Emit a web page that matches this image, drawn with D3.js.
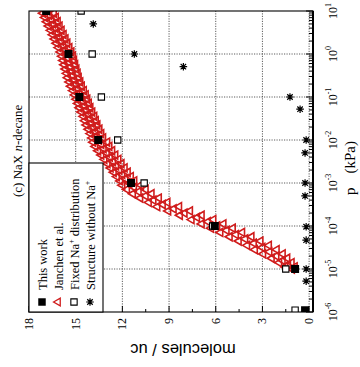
<!DOCTYPE html>
<html>
<head>
<meta charset="utf-8">
<script src="https://cdn.jsdelivr.net/npm/d3@7"></script>
<style>
body { margin:0; background:#fff; }
svg { display:block; }
</style>
</head>
<body>
<script>
// [p (kPa), molecules/uc]
var thisWork = [[10,16.9],[1,15.46],[0.1,14.77],[0.01,13.55],[1e-3,11.44],[1e-4,6.06],[1e-5,0.9],[1.1e-6,0.26]];
var fixedNa = [[10,14.65],[1,13.94],[0.1,13.35],[0.01,12.3],[1e-3,10.6],[1e-4,6.2],[1e-5,1.5],[1.1e-6,0.9]];
var noNa = [[5.0,13.87],[1,11.23],[0.507,8.08],[0.1,1.23],[0.052,0.58],[0.01,0.19],[0.005,0.26],[1e-3,0.26],
            [5e-4,0.26],[9.6e-5,0.19],[4.7e-5,0.19],[1e-5,0.19],[5.2e-6,0.19]];

// Janchen et al. - read along the band (middle, upper and lower edge)
var janchenMid = [[10,16.8],[7.94,16.7],[6.31,16.55],[5.01,16.45],[3.98,16.3],[3.16,16.2],[2.51,16.05],[2.0,15.95],
  [1.58,15.8],[1.26,15.7],[1.0,15.55],[0.794,15.5],[0.631,15.4],[0.501,15.35],[0.398,15.25],[0.316,15.2],
  [0.251,15.1],[0.2,15.0],[0.158,14.9],[0.126,14.75],[0.1,14.65],[0.0794,14.55],[0.0631,14.45],[0.0501,14.35],
  [0.0398,14.2],[0.0316,14.1],[0.0251,14.0],[0.02,13.9],[0.0158,13.75],[0.0126,13.65],[0.01,13.5],
  [7.94e-3,13.35],[6.31e-3,13.2],[5.01e-3,13.0],[3.98e-3,12.8],[3.16e-3,12.6],[2.51e-3,12.4],[2.0e-3,12.2],
  [1.58e-3,12.0],[1.26e-3,11.8],[1.0e-3,11.55],[7.94e-4,11.25],[6.31e-4,10.95],[5.01e-4,10.5],[3.98e-4,10.0],
  [3.16e-4,9.4],[2.51e-4,8.7],[2.0e-4,8.0],[1.58e-4,7.2],[1.26e-4,6.5],[1.0e-4,5.9],[7.94e-5,5.3],[6.31e-5,4.7],
  [5.01e-5,4.1],[3.98e-5,3.55],[3.16e-5,3.0],[2.51e-5,2.55],[2.0e-5,2.1],[1.58e-5,1.7],[1.26e-5,1.35],[1.0e-5,1.1]];
var janchenHigh = [[8.91,17.1],[7.08,16.97],[5.62,16.85],[4.47,16.73],[3.55,16.6],[2.82,16.47],[2.24,16.35],
  [1.78,16.23],[1.41,16.1],[1.12,15.97],[0.891,15.87],[0.708,15.8],[0.562,15.73],[0.447,15.65],[0.355,15.57],
  [0.282,15.5],[0.224,15.4],[0.178,15.3],[0.141,15.17],[0.112,15.05],[0.0891,14.95],[0.0708,14.85],[0.0562,14.75],
  [0.0447,14.63],[0.0355,14.5],[0.0282,14.4],[0.0224,14.3],[0.0178,14.17],[0.0141,14.05],[0.0112,13.93],
  [8.91e-3,13.87],[7.08e-3,13.73],[5.62e-3,13.55],[4.47e-3,13.35],[3.55e-3,13.15],[2.82e-3,12.95],[2.24e-3,12.75],
  [1.78e-3,12.55],[1.41e-3,12.35],[1.12e-3,12.13],[8.91e-4,12.0],[7.08e-4,11.7],[5.62e-4,11.32],[4.47e-4,10.85],
  [3.55e-4,10.3],[2.82e-4,9.75],[2.24e-4,9.05],[1.78e-4,8.3],[1.41e-4,7.55],[1.12e-4,6.9],[8.91e-5,6.3],
  [7.08e-5,5.7],[5.62e-5,5.1],[4.47e-5,4.52],[3.55e-5,3.98],[2.82e-5,3.48],[2.24e-5,2.95],[1.78e-5,2.4],
  [1.41e-5,1.92],[1.12e-5,1.52]];
var janchenLow = [[8.91,16.4],[7.08,16.27],[5.62,16.15],[4.47,16.03],[3.55,15.9],[2.82,15.77],[2.24,15.65],
  [1.78,15.53],[1.41,15.4],[1.12,15.27],[0.891,15.17],[0.708,15.1],[0.562,15.03],[0.447,14.95],[0.355,14.87],
  [0.282,14.8],[0.224,14.7],[0.178,14.6],[0.141,14.47],[0.112,14.35],[0.0891,14.25],[0.0708,14.15],[0.0562,14.05],
  [0.0447,13.93],[0.0355,13.8],[0.0282,13.7],[0.0224,13.6],[0.0178,13.47],[0.0141,13.35],[0.0112,13.23],
  [8.91e-3,12.97],[7.08e-3,12.83],[5.62e-3,12.65],[4.47e-3,12.45],[3.55e-3,12.25],[2.82e-3,12.05],[2.24e-3,11.85],
  [1.78e-3,11.65],[1.41e-3,11.45],[1.12e-3,11.23],[8.91e-4,10.8],[7.08e-4,10.5],[5.62e-4,10.12],[4.47e-4,9.65],
  [3.55e-4,9.1],[2.82e-4,8.35],[2.24e-4,7.65],[1.78e-4,6.9],[1.41e-4,6.15],[1.12e-4,5.5],[8.91e-5,4.9],
  [7.08e-5,4.3],[5.62e-5,3.7],[4.47e-5,3.12],[3.55e-5,2.58],[2.82e-5,2.08],[2.24e-5,1.69],[1.78e-5,1.4],
  [1.41e-5,1.12],[1.12e-5,0.92]];

var yTicks = [0,3,6,9,12,15,18];
var yMinor = [1.5,4.5,7.5,10.5,13.5,16.5];
var xExp = [-6,-5,-4,-3,-2,-1,0,1];
var legendLabels = ["This work","Janchen et al.","Fixed Na","Structure without Na"];

var red = "#d01c1c";
var serif = "'Liberation Serif','Times New Roman',serif";

// chart is drawn upright (367 wide, 360 high) then turned 90 deg
var svg = d3.select("body").append("svg").attr("width",360).attr("height",367);
var chart = svg.append("g").attr("transform","translate(0,367) rotate(-90)");

var x = d3.scaleLog().domain([1e-6,10]).range([55,356]);
var y = d3.scaleLinear().domain([-0.25,18]).range([313,29]);

chart.append("clipPath").attr("id","plotclip").append("rect")
  .attr("x",55).attr("y",29).attr("width",301).attr("height",284);

// grid
var grid = chart.append("g").attr("stroke","#333").attr("stroke-width",0.8).attr("stroke-dasharray","1.2,1.3");
xExp.slice(1,-1).forEach(function(e){
  grid.append("line").attr("x1",x(Math.pow(10,e))).attr("x2",x(Math.pow(10,e))).attr("y1",29).attr("y2",313);
});
yTicks.slice(0,-1).forEach(function(v){
  grid.append("line").attr("x1",55).attr("x2",356).attr("y1",y(v)).attr("y2",y(v));
});

// ticks
var ticks = chart.append("g").attr("stroke","#000").attr("stroke-width",1);
xExp.forEach(function(e){
  var v = Math.pow(10,e);
  ticks.append("line").attr("x1",x(v)).attr("x2",x(v)).attr("y1",313).attr("y2",306);
  if (e < 1) {
    for (var k = 2; k < 10; k++) {
      ticks.append("line").attr("x1",x(k*v)).attr("x2",x(k*v)).attr("y1",313).attr("y2",309);
    }
  }
});
yTicks.forEach(function(v){
  ticks.append("line").attr("x1",55).attr("x2",61).attr("y1",y(v)).attr("y2",y(v));
});
yMinor.forEach(function(v){
  ticks.append("line").attr("x1",55).attr("x2",58).attr("y1",y(v)).attr("y2",y(v));
});

// data
var pts = chart.append("g").attr("clip-path","url(#plotclip)");
var tri = d3.symbol().type(d3.symbolTriangle).size(28);
pts.selectAll(".jan").data(janchenMid.concat(janchenHigh, janchenLow)).enter().append("path")
  .attr("d",tri).attr("transform",function(d){ return "translate("+x(d[0])+","+y(d[1])+")"; })
  .attr("fill","none").attr("stroke",red).attr("stroke-width",1.6);

var sq = d3.symbol().type(d3.symbolSquare);
pts.selectAll(".fix").data(fixedNa).enter().append("path")
  .attr("d",sq.size(40)).attr("transform",function(d){ return "translate("+x(d[0])+","+y(d[1])+")"; })
  .attr("fill","#fff").attr("stroke","#000").attr("stroke-width",1.1);

pts.selectAll(".tw").data(thisWork).enter().append("path")
  .attr("d",d3.symbol().type(d3.symbolSquare).size(64)).attr("transform",function(d){ return "translate("+x(d[0])+","+y(d[1])+")"; })
  .attr("fill","#000");

function starPath(r){
  var a = r*0.72;
  return "M"+(-r)+",0L"+r+",0M0,"+(-r)+"L0,"+r+"M"+(-a)+","+(-a)+"L"+a+","+a+"M"+(-a)+","+a+"L"+a+","+(-a);
}
pts.selectAll(".star").data(noNa).enter().append("path")
  .attr("d",starPath(3.8)).attr("transform",function(d){ return "translate("+x(d[0])+","+y(d[1])+")"; })
  .attr("fill","none").attr("stroke","#000").attr("stroke-width",1.2);

// frame
chart.append("rect").attr("x",55).attr("y",29).attr("width",301).attr("height",284)
  .attr("fill","none").attr("stroke","#000").attr("stroke-width",1.1);
chart.append("line").attr("x1",55).attr("x2",356).attr("y1",313).attr("y2",313)
  .attr("stroke","#000").attr("stroke-width",2);

// legend
var lg = chart.append("g");
lg.append("rect").attr("x",55).attr("y",29).attr("width",149).attr("height",74)
  .attr("fill","#fff").attr("stroke","#000").attr("stroke-width",1.1);
legendLabels.forEach(function(t,i){
  var ly = 42 + i*16;
  var m = lg.append("path").attr("transform","translate(65,"+ly+")");
  if (i==0) m.attr("d",d3.symbol().type(d3.symbolSquare).size(56)).attr("fill","#000");
  if (i==1) m.attr("d",d3.symbol().type(d3.symbolTriangle).size(26)).attr("fill","none").attr("stroke",red).attr("stroke-width",1.3);
  if (i==2) m.attr("d",sq.size(40)).attr("fill","#fff").attr("stroke","#000").attr("stroke-width",1.1);
  if (i==3) m.attr("d",starPath(3.8)).attr("fill","none").attr("stroke","#000").attr("stroke-width",1.2);
  var tx = lg.append("text").attr("x",77).attr("y",ly+4.5).attr("font-family",serif).attr("font-size",12.5).text(t);
  if (i>=2) tx.append("tspan").attr("dy",-5).attr("font-size",8).text("+");
  if (i==2) tx.append("tspan").attr("dy",5).text(" distribution");
});

// axis labels
xExp.forEach(function(e){
  var t = chart.append("text").attr("x",x(Math.pow(10,e))).attr("y",337)
    .attr("text-anchor","middle").attr("font-family",serif).attr("font-size",12).text("10");
  t.append("tspan").attr("dy",-6).attr("font-size",8).text(e);
});
yTicks.forEach(function(v){
  chart.append("text").attr("x",49).attr("y",y(v)+4).attr("text-anchor","end")
    .attr("font-family",serif).attr("font-size",12).text(v);
});
var pl = chart.append("text").attr("x",172).attr("y",355).attr("font-family",serif).attr("font-size",15);
pl.append("tspan").text("p");
pl.append("tspan").attr("dx",14).text("(kPa)");

chart.append("text").attr("transform","translate(23,183) rotate(-90)").attr("text-anchor","middle")
  .attr("font-family","'Liberation Sans',Arial,sans-serif").attr("font-size",16.5).text("molecules / uc");

var title = chart.append("text").attr("x",170).attr("y",22).attr("font-family",serif).attr("font-size",13);
title.append("tspan").text("(c) NaX ");
title.append("tspan").attr("font-style","italic").text("n");
title.append("tspan").text("-decane");
</script>
</body>
</html>
